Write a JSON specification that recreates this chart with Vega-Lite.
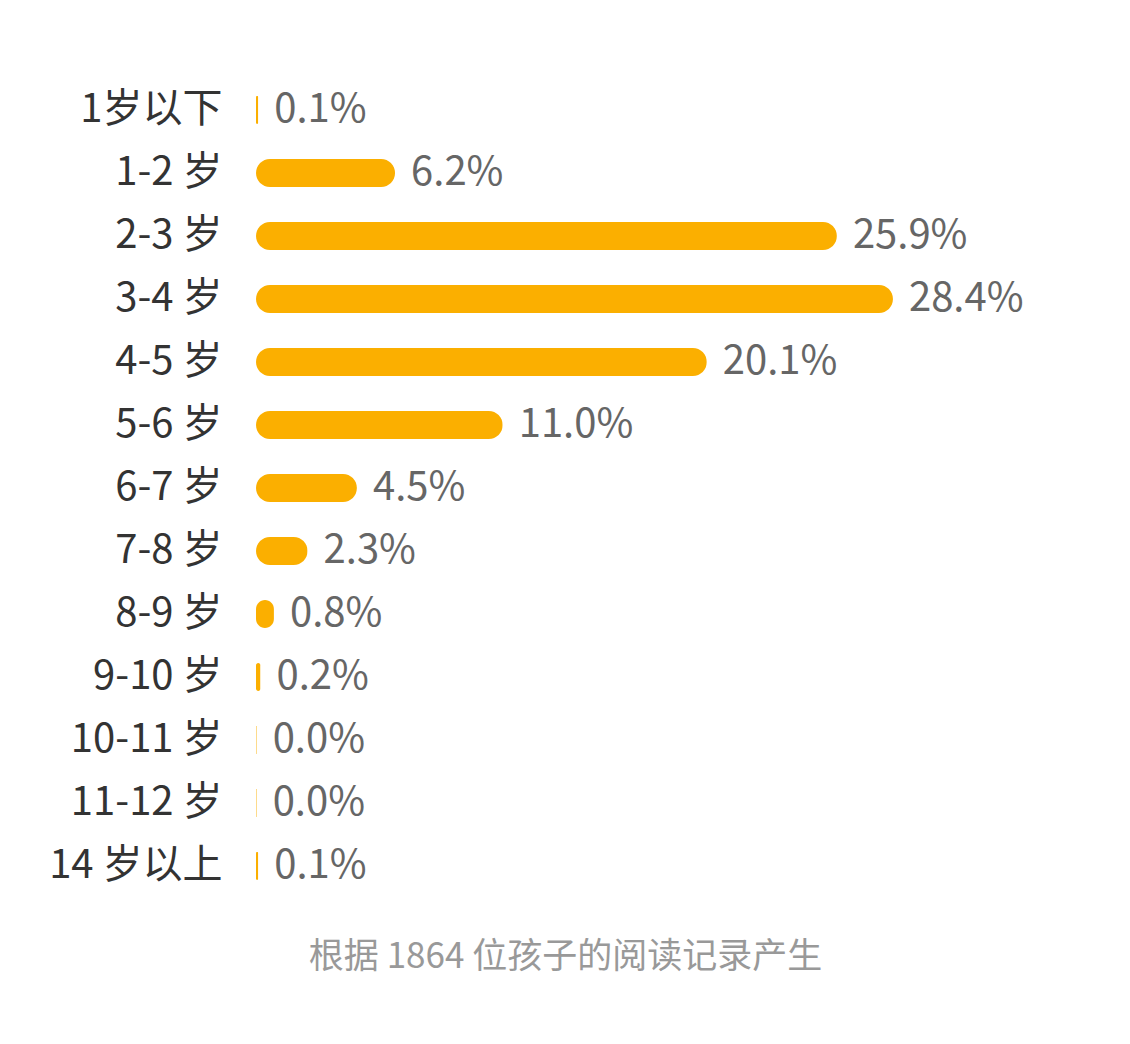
{
  "$schema": "https://vega.github.io/schema/vega-lite/v6.json",
  "autosize": "none",
  "width": 785,
  "height": 819,
  "padding": {"left": 256, "top": 78.5, "right": 89, "bottom": 146.5},
  "background": "white",
  "title": {
    "text": "根据 1864 位孩子的阅读记录产生",
    "orient": "bottom",
    "anchor": "middle",
    "dx": -83,
    "offset": 42,
    "font": "Noto Sans CJK SC",
    "fontSize": 35,
    "fontWeight": "normal",
    "color": "#999999"
  },
  "data": {
    "values": [
      {"age": "1岁以下", "pct": 0.1},
      {"age": "1-2 岁", "pct": 6.2},
      {"age": "2-3 岁", "pct": 25.9},
      {"age": "3-4 岁", "pct": 28.4},
      {"age": "4-5 岁", "pct": 20.1},
      {"age": "5-6 岁", "pct": 11.0},
      {"age": "6-7 岁", "pct": 4.5},
      {"age": "7-8 岁", "pct": 2.3},
      {"age": "8-9 岁", "pct": 0.8},
      {"age": "9-10 岁", "pct": 0.2},
      {"age": "10-11 岁", "pct": 0.03},
      {"age": "11-12 岁", "pct": 0.03},
      {"age": "14 岁以上", "pct": 0.1}
    ]
  },
  "transform": [
    {"calculate": "format(datum.pct, '.1f') + '%'", "as": "label"}
  ],
  "encoding": {
    "y": {
      "field": "age",
      "type": "nominal",
      "sort": null,
      "scale": {"paddingInner": 0.556, "paddingOuter": 0.278},
      "axis": {
        "title": null,
        "domain": false,
        "ticks": false,
        "labelPadding": 34,
        "labelFont": "Noto Sans CJK SC",
        "labelFontSize": 40,
        "labelColor": "#333333"
      }
    },
    "x": {
      "field": "pct",
      "type": "quantitative",
      "scale": {"domain": [0, 35], "nice": false},
      "axis": null
    }
  },
  "layer": [
    {
      "mark": {"type": "bar", "color": "#FBAF00", "cornerRadius": 14}
    },
    {
      "mark": {
        "type": "text",
        "align": "left",
        "baseline": "middle",
        "dx": 16,
        "font": "Noto Sans CJK SC",
        "fontSize": 40,
        "color": "#666666"
      },
      "encoding": {"text": {"field": "label"}}
    }
  ],
  "config": {"view": {"stroke": null}}
}
